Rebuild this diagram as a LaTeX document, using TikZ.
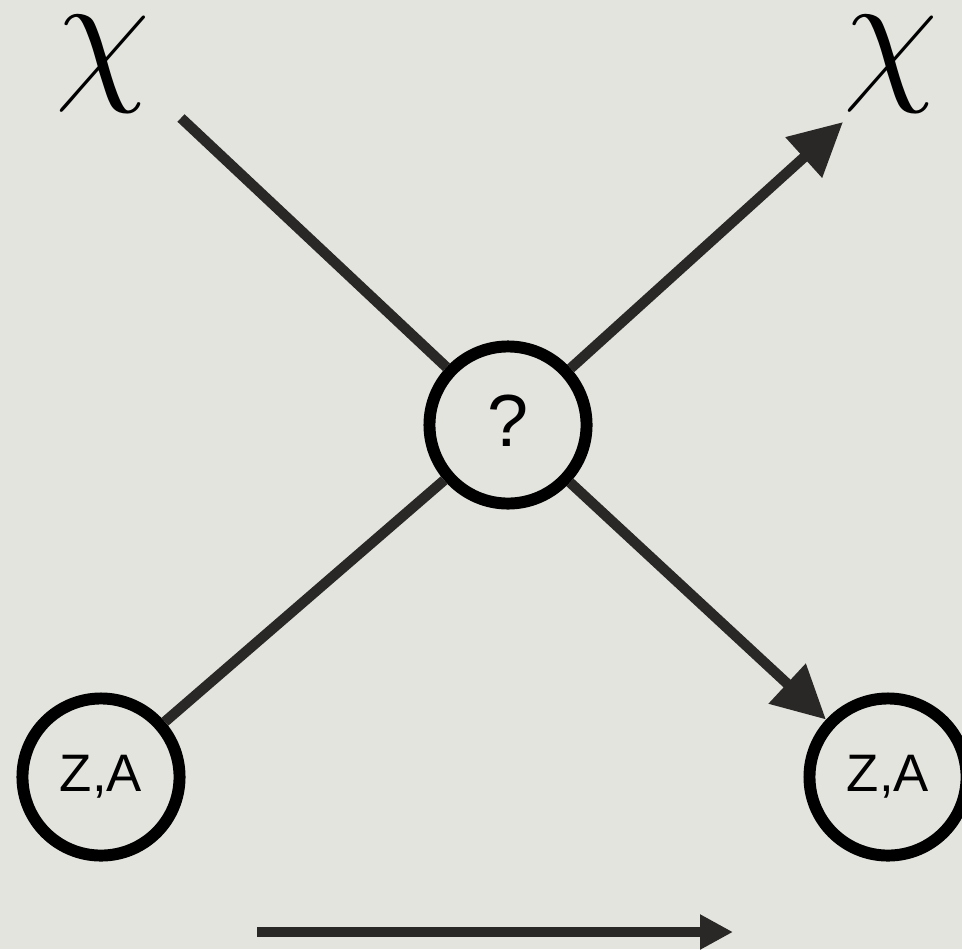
\RequirePackage{fix-cm}
\documentclass[tikz,border=0pt]{standalone}
\usepackage{fontspec}
\newfontfamily\lsans{Liberation Sans}
\usetikzlibrary{arrows.meta}
\definecolor{bg}{RGB}{228,228,223}
\definecolor{ln}{RGB}{42,40,39}
\tikzset{
  vertex/.style={circle, draw=black, line width=3.4pt, fill=bg, minimum size=1.57cm, inner sep=0pt, font=\lsans\fontsize{15}{18}\selectfont},
  conn/.style={draw=ln, line width=2.95pt},
  bigtip/.style={-{Triangle[length=0.53cm,width=0.52cm]}},
  smalltip/.style={-{Triangle[length=0.33cm,width=0.33cm]}},
  chilabel/.style={inner sep=0pt, font=\fontsize{44}{50}\selectfont}
}
\begin{document}
\begin{tikzpicture}[x=0.01cm,y=-0.01cm]
\fill[bg] (0,0) rectangle (962,949);
\useasboundingbox (0,0) rectangle (962,949);
\clip (0,0) rectangle (962,949);
\node[vertex] (q) at (508,425) {\fontsize{21}{24}\selectfont\raisebox{2.4pt}{?}};
\node[vertex] (zl) at (101,777) {Z,A};
\node[vertex] (zr) at (888,777) {Z,A};
\node[chilabel] (chil) at (103,64) {$\chi$};
\node[chilabel] (chir) at (891,64) {$\chi$};
\coordinate (tl) at (181,118);
\coordinate (tr) at (843,122);
\coordinate (a1) at (257,932);
\coordinate (a2) at (733,932);
\draw[conn] (tl) -- (q);
\draw[conn,bigtip] (q) -- (tr);
\draw[conn] (zl) -- (q);
\draw[conn,bigtip] (q) -- (zr);
\draw[conn,smalltip] (a1) -- (a2);
\end{tikzpicture}
\end{document}
